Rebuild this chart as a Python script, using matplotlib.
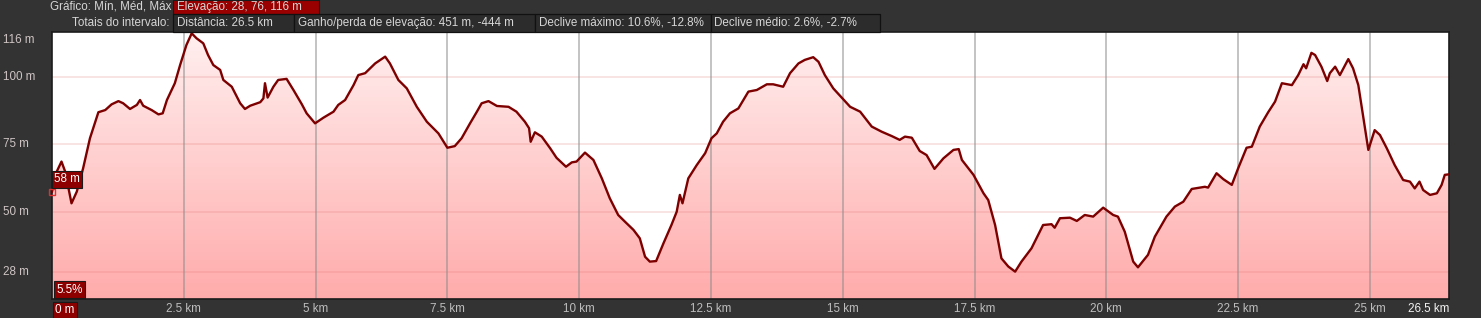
import matplotlib
matplotlib.use("Agg")
import matplotlib.pyplot as plt
import numpy as np
from matplotlib.colors import LinearSegmentedColormap
from matplotlib.patches import Polygon, Rectangle
from matplotlib.transforms import blended_transform_factory, offset_copy

# elevation profile (distance in km, elevation in m)
dist_km = [0.00, 0.09, 0.18, 0.25, 0.37, 0.47, 0.59, 0.72, 0.88, 1.01, 1.13, 1.26, 1.35, 1.48,
           1.61, 1.67, 1.73, 1.89, 2.02, 2.10, 2.18, 2.33, 2.43, 2.55, 2.65, 2.74, 2.87, 2.96,
           3.06, 3.19, 3.25, 3.41, 3.57, 3.66, 3.76, 3.95, 4.01, 4.04, 4.09, 4.20, 4.29, 4.45,
           4.58, 4.74, 4.83, 4.99, 5.15, 5.34, 5.43, 5.56, 5.72, 5.81, 5.94, 6.13, 6.32, 6.41,
           6.57, 6.73, 6.92, 7.11, 7.33, 7.50, 7.64, 7.77, 7.93, 8.06, 8.15, 8.28, 8.44, 8.66,
           8.81, 8.97, 9.05, 9.08, 9.16, 9.29, 9.45, 9.57, 9.75, 9.86, 9.95, 10.11, 10.27, 10.43,
           10.58, 10.74, 10.87, 11.03, 11.15, 11.25, 11.34, 11.46, 11.60, 11.75, 11.85, 11.91,
           11.96, 12.07, 12.23, 12.39, 12.51, 12.61, 12.73, 12.86, 13.02, 13.21, 13.37, 13.56,
           13.68, 13.87, 14.00, 14.16, 14.28, 14.44, 14.54, 14.66, 14.82, 14.98, 15.14, 15.33,
           15.55, 15.74, 15.93, 16.08, 16.18, 16.31, 16.46, 16.59, 16.74, 16.91, 17.10, 17.20,
           17.26, 17.48, 17.67, 17.76, 17.89, 18.01, 18.14, 18.27, 18.39, 18.58, 18.80, 18.96,
           19.02, 19.12, 19.31, 19.44, 19.59, 19.75, 19.94, 20.13, 20.22, 20.35, 20.51, 20.60,
           20.79, 20.92, 21.14, 21.30, 21.46, 21.62, 21.87, 21.93, 22.09, 22.22, 22.38, 22.50,
           22.66, 22.76, 22.91, 23.07, 23.20, 23.33, 23.52, 23.64, 23.74, 23.79, 23.89, 23.96,
           24.08, 24.19, 24.24, 24.34, 24.43, 24.59, 24.68, 24.78, 24.97, 25.09, 25.19, 25.32,
           25.47, 25.63, 25.76, 25.85, 25.94, 26.01, 26.14, 26.27, 26.36, 26.42, 26.50]
elev_m = [57.6, 65.0, 68.7, 65.0, 53.3, 57.6, 66.2, 77.3, 86.9, 87.7, 89.8, 91.0, 90.2, 88.1,
          89.6, 91.4, 89.3, 87.7, 86.1, 86.5, 91.4, 97.6, 104.3, 111.7, 116.0, 114.2, 112.3, 108.0,
          104.3, 102.5, 98.8, 96.3, 90.2, 88.1, 89.3, 90.6, 92.0, 97.6, 92.3, 96.3, 98.8, 99.2,
          95.1, 89.8, 86.5, 82.8, 84.9, 87.1, 89.6, 91.4, 96.9, 100.6, 101.3, 104.9, 107.4, 104.9,
          98.8, 95.7, 88.9, 83.4, 79.1, 73.8, 74.4, 77.3, 82.8, 87.1, 90.2, 91.0, 89.2, 88.9,
          87.1, 83.4, 81.0, 76.0, 79.5, 77.9, 73.6, 70.1, 66.8, 68.4, 68.7, 72.0, 69.3, 62.5,
          55.2, 49.0, 46.5, 43.5, 40.4, 33.6, 31.8, 32.0, 38.6, 45.3, 50.2, 56.4,
          53.3, 62.5, 67.4, 71.8, 77.3, 79.1, 83.4, 86.5, 88.3, 94.5, 95.1, 97.2,
          97.2, 96.3, 101.3, 104.9, 106.2, 107.2, 105.5, 100.6, 95.7, 92.3, 88.9, 87.1,
          81.6, 79.7, 78.1, 76.7, 77.9, 77.5, 72.6, 71.1, 66.0, 69.9, 73.0, 73.3,
          69.3, 63.8, 57.0, 54.5, 45.3, 33.0, 30.0, 28.1, 31.8, 36.7, 45.3, 45.6,
          44.3, 47.8, 48.0, 46.8, 49.0, 48.4, 51.7, 49.0, 48.4, 42.8, 31.8, 29.7,
          34.3, 41.0, 48.4, 52.1, 53.9, 58.6, 59.4, 59.1, 64.4, 62.2, 60.1, 66.2,
          73.8, 74.2, 81.6, 86.9, 90.8, 97.6, 96.9, 100.6, 104.6, 103.1, 108.8, 108.0,
          103.7, 98.4, 101.3, 103.7, 100.6, 106.5, 103.1, 96.9, 73.0, 80.3, 78.5, 73.6,
          67.4, 61.9, 61.3, 58.8, 61.3, 58.2, 56.4, 57.0, 60.1, 63.8, 64.0]

x_ticks = [2.5, 5, 7.5, 10, 12.5, 15, 17.5, 20, 22.5, 25]
x_tick_labels = ["2.5 km", "5 km", "7.5 km", "10 km", "12.5 km", "15 km",
                 "17.5 km", "20 km", "22.5 km", "25 km"]
y_ticks = [116, 100, 75, 50, 28]
y_tick_labels = ["116 m", "100 m", "75 m", "50 m", "28 m"]

header_row1 = ["Elevação: 28, 76, 116 m"]
header_row2 = ["Distância: 26.5 km", "Ganho/perda de elevação: 451 m, -444 m",
               "Declive máximo: 10.6%, -12.8%", "Declive médio: 2.6%, -2.7%"]
start_slope = "5.5%"
total_dist = "26.5 km"

W, H = 1481, 318
BG = "#333333"
TXT = "#d6d6d6"
RED = "#8e0000"
FS = 8.4

plt.rcParams['font.family'] = ['Liberation Sans', 'DejaVu Sans']

fig = plt.figure(figsize=(W / 100, H / 100), dpi=100, facecolor=BG)


def fx(px):
    return px / W


def fy(py):
    return 1 - py / H


left, right, top, bottom = 52, 1449, 31.7, 299.3
ax = fig.add_axes([fx(left), fy(bottom), fx(right - left), (bottom - top) / H])
ax.set_facecolor("white")
ymin, ymax = 17.9, 116.6
ax.set_xlim(0, 26.5)
ax.set_ylim(ymin, ymax)

# gradient fill under the profile
cmap = LinearSegmentedColormap.from_list("pinkfill", ["#ffabab", "#fff0f0"])
grad = np.linspace(0, 1, 256).reshape(-1, 1)
im = ax.imshow(grad, cmap=cmap, origin="lower", aspect="auto",
               extent=[0, 26.5, ymin, ymax], zorder=1)
verts = [(dist_km[0], ymin)] + list(zip(dist_km, elev_m)) + [(dist_km[-1], ymin)]
poly = Polygon(verts, closed=True, facecolor="none", edgecolor="none")
ax.add_patch(poly)
im.set_clip_path(poly)

# grid
for v in y_ticks[1:]:
    ax.axhline(v, color="#e07070", alpha=0.22, lw=1.2, zorder=2)
for v in x_ticks:
    ax.axvline(v, color="#8a8a8a", alpha=0.55, lw=1.3, zorder=2)

ax.plot(dist_km, elev_m, color="#7d0000", lw=1.7, zorder=3, solid_joinstyle="round")
ax.plot([dist_km[0]], [elev_m[0]], marker="s", ms=5, mfc="none", mec="#e03030",
        mew=1, zorder=4, clip_on=False)

ax.set_xticks([])
ax.set_yticks([])
for s in ax.spines.values():
    s.set_color("#1c1c1c")
    s.set_linewidth(1.2)

# x labels
tx = blended_transform_factory(ax.transData, fig.transFigure)
for v, lab in zip(x_ticks, x_tick_labels):
    ax.text(v, fy(309), lab, transform=tx, ha="center", va="center",
            color="#bdbdbd", fontsize=FS)
ax.text(26.5, fy(309), total_dist, transform=tx, ha="right", va="center",
        color="#f2f2f2", fontsize=FS)

# y labels
ty = blended_transform_factory(fig.transFigure, ax.transData)
for v, lab in zip(y_ticks, y_tick_labels):
    if v >= ymax - 3:
        ax.text(fx(3), ymax, lab, transform=offset_copy(ty, fig=fig, y=-1.5, units="points"),
                ha="left", va="top", color="#cfc4c4", fontsize=FS)
    else:
        ax.text(fx(3), v, lab, transform=ty, ha="left", va="center",
                color="#cfc4c4", fontsize=FS)

# readout boxes
box = dict(boxstyle="square,pad=0.2", fc=RED, ec="#1a1a1a", lw=0.8)
ax.text(0, elev_m[0], "%d m" % round(elev_m[0]),
        transform=offset_copy(ax.transData, fig=fig, x=1.5, y=4.5, units="points"),
        ha="left", va="bottom", color="white", fontsize=FS, bbox=box, zorder=5)
ax.text(0, 0, start_slope,
        transform=offset_copy(ax.transAxes, fig=fig, x=3, y=2.5, units="points"),
        ha="left", va="bottom", color="white", fontsize=FS, bbox=box, zorder=5)
ax.text(0, fy(310), "%d m" % round(dist_km[0] * 1000),
        transform=offset_copy(tx, fig=fig, x=2.5, units="points"),
        ha="left", va="center", color="white", fontsize=FS, bbox=box)

# header rows
fig.text(fx(171), fy(6.7), "Gráfico: Mín, Méd, Máx", ha="right", va="center",
         color=TXT, fontsize=FS)
fig.patches.append(Rectangle((fx(173), fy(13.7)), fx(319 - 173), 13.7 / H,
                             transform=fig.transFigure, fc="#9a0000", ec="#1a1a1a",
                             lw=0.8, figure=fig))
fig.text(fx(177), fy(6.7), header_row1[0], ha="left", va="center", color=TXT, fontsize=FS)

fig.text(fx(170), fy(22.7), "Totais do intervalo:", ha="right", va="center",
         color=TXT, fontsize=FS)
edges = [173, 294, 535, 710.5, 880]
for i, lab in enumerate(header_row2):
    x0, x1 = edges[i], edges[i + 1]
    fig.patches.append(Rectangle((fx(x0), fy(31.5)), fx(x1 - x0), 17.8 / H,
                                 transform=fig.transFigure, fc="#2c2c2c", ec="#111111",
                                 lw=0.9, figure=fig))
    fig.text(fx(x0 + 4), fy(22.7), lab, ha="left", va="center", color=TXT, fontsize=FS)

fig.savefig("out.png", dpi=100, facecolor=BG)
